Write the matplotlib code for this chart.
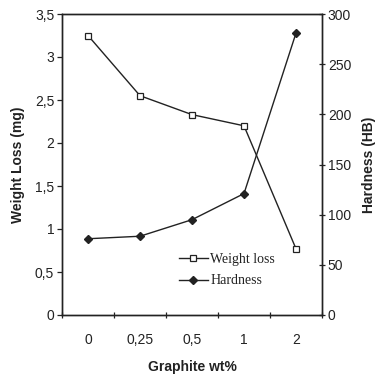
import matplotlib
matplotlib.use("Agg")
import matplotlib.pyplot as plt
from matplotlib.ticker import FuncFormatter, FixedLocator, NullFormatter

categories = ["0", "0,25", "0,5", "1", "2"]
weight_loss = [3.25, 2.55, 2.33, 2.20, 0.77]
hardness = [76, 78.5, 95, 121, 281]

plt.rcParams['font.family'] = ['Liberation Sans', 'DejaVu Sans']

fig = plt.figure(figsize=(3.76, 3.74), dpi=100)
ax = fig.add_axes([62/376, (374-315)/374, 260/376, 301/374])
ax2 = ax.twinx()

x = list(range(len(categories)))
l1, = ax.plot(x, weight_loss, color='#222222', lw=1.0, marker='s', markersize=5,
              markerfacecolor='white', markeredgecolor='#222222', markeredgewidth=0.9,
              label='Weight loss')
l2, = ax2.plot(x, hardness, color='#222222', lw=1.0, marker='D', markersize=4.5,
               markerfacecolor='#222222', markeredgecolor='#222222',
               label='Hardness')

ax.set_xlim(-0.5, len(categories) - 0.5)
ax.set_ylim(0, 3.5)
ax2.set_ylim(0, 300)

ax.set_yticks([0, 0.5, 1, 1.5, 2, 2.5, 3, 3.5])
ax.yaxis.set_major_formatter(FuncFormatter(lambda v, p: ('%g' % v).replace('.', ',')))
ax2.set_yticks(range(0, 301, 50))

ax.xaxis.set_major_locator(FixedLocator([i - 0.5 for i in range(len(categories) + 1)]))
ax.xaxis.set_major_formatter(NullFormatter())
ax.xaxis.set_minor_locator(FixedLocator(x))
ax.set_xticklabels(categories, minor=True)

tc = '#222222'
fs = 10
ax.tick_params(axis='x', which='major', direction='inout', length=5, width=0.9, color=tc)
ax.tick_params(axis='x', which='minor', length=0, pad=13, labelsize=fs, labelcolor=tc)
ax.tick_params(axis='y', direction='out', length=3.6, width=0.9, color=tc, labelsize=fs,
               labelcolor=tc, pad=2)
ax2.tick_params(axis='y', direction='inout', length=4.3, width=0.9, color=tc, labelsize=fs,
                labelcolor=tc, pad=2)

for a in (ax, ax2):
    for s in a.spines.values():
        s.set_linewidth(1.0)
        s.set_color(tc)

ax.set_ylabel('Weight Loss (mg)', fontsize=fs, fontweight='bold', color=tc, labelpad=7)
ax2.set_ylabel('Hardness (HB)', fontsize=fs, fontweight='bold', color=tc, labelpad=8)
ax.set_xlabel('Graphite wt%', fontsize=fs, fontweight='bold', color=tc, labelpad=9)

leg = ax2.legend([l1, l2], ['Weight loss', 'Hardness'], loc='lower left',
                 bbox_to_anchor=(0.40, 0.05), frameon=False, handlelength=2.1,
                 handletextpad=0.2, labelspacing=0.6,
                 prop={'family': 'Liberation Serif', 'size': 10})
for t in leg.get_texts():
    t.set_color(tc)

fig.savefig('out.png', dpi=100)
